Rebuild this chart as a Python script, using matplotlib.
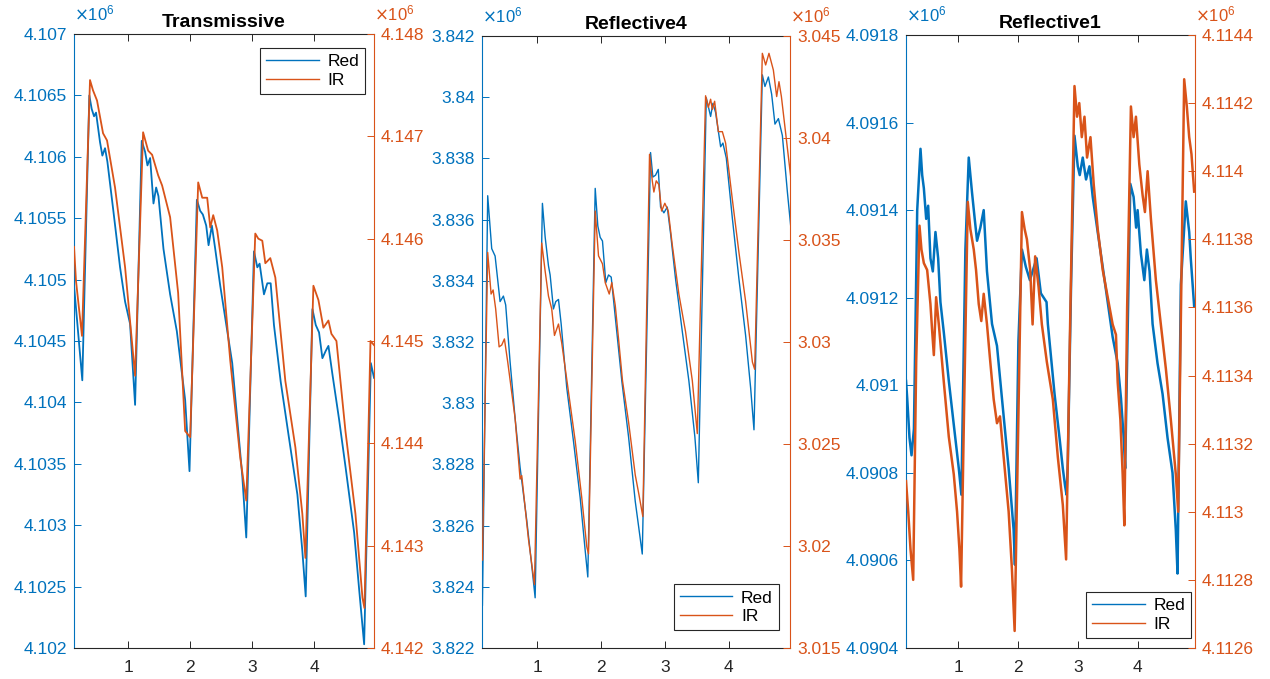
import numpy as np
import matplotlib
matplotlib.use('Agg')
import matplotlib.pyplot as plt
from matplotlib.ticker import FuncFormatter

plt.rcParams['font.family'] = ['Liberation Sans', 'DejaVu Sans']
plt.rcParams['axes.linewidth'] = 0.8
plt.rcParams['xtick.direction'] = 'in'
plt.rcParams['ytick.direction'] = 'in'
plt.rcParams['xtick.major.size'] = 5
plt.rcParams['ytick.major.size'] = 5
plt.rcParams['xtick.major.width'] = 0.7
plt.rcParams['ytick.major.width'] = 0.7

blue = '#0072BD'
orange = '#D95319'
dark = '#262626'

titles = ['Transmissive', 'Reflective4', 'Reflective1']

# ---- Transmissive (values in units of 1e6) ----
trans_t_red = [0.13, 0.263, 0.376, 0.414, 0.452, 0.484, 0.548, 0.586, 0.629, 0.667, 0.763, 0.871,
               0.952, 1.032, 1.113, 1.220, 1.274, 1.312, 1.355, 1.409, 1.452, 1.489, 1.570, 1.677,
               1.785, 1.919, 1.989, 2.108, 2.161, 2.204, 2.258, 2.296, 2.349, 2.403, 2.484, 2.677,
               2.839, 2.903, 3.027, 3.081, 3.118, 3.188, 3.242, 3.296, 3.349, 3.457, 3.591, 3.726,
               3.806, 3.860, 3.968, 4.022, 4.075, 4.129, 4.183, 4.226, 4.290, 4.398, 4.505, 4.640,
               4.720, 4.801, 4.909, 4.96]
trans_red = [4.10495, 4.10418, 4.10650, 4.10639, 4.10633, 4.10636, 4.10612, 4.10601, 4.10607,
             4.10596, 4.10556, 4.10510, 4.10482, 4.10464, 4.10398, 4.10613, 4.10604, 4.10593,
             4.10599, 4.10562, 4.10575, 4.10568, 4.10525, 4.10488, 4.10458, 4.10402, 4.10344,
             4.10565, 4.10556, 4.10553, 4.10544, 4.10528, 4.10544, 4.10525, 4.10495, 4.10432,
             4.10340, 4.10290, 4.10523, 4.10510, 4.10513, 4.10488, 4.10497, 4.10497, 4.10463,
             4.10417, 4.10371, 4.10325, 4.10279, 4.10242, 4.10476, 4.10463, 4.10457, 4.10436,
             4.10442, 4.10446, 4.10423, 4.10386, 4.10346, 4.10294, 4.10248, 4.10203, 4.10432,
             4.10420]
trans_t_ir = [0.13, 0.161, 0.258, 0.387, 0.435, 0.50, 0.597, 0.661, 0.790, 0.952, 1.113, 1.242,
              1.323, 1.387, 1.484, 1.548, 1.677, 1.806, 1.919, 2.0, 2.129, 2.194, 2.274, 2.323,
              2.371, 2.435, 2.516, 2.645, 2.806, 2.903, 3.048, 3.097, 3.161, 3.210, 3.290, 3.371,
              3.532, 3.694, 3.806, 3.855, 3.984, 4.065, 4.145, 4.226, 4.274, 4.355, 4.5, 4.661,
              4.774, 4.806, 4.903, 4.96]
trans_ir = [4.14592, 4.14559, 4.14505, 4.14755, 4.14745, 4.14735, 4.14703, 4.14696, 4.14650,
            4.14572, 4.14466, 4.14704, 4.14686, 4.14682, 4.14662, 4.14652, 4.14621, 4.14547,
            4.14412, 4.14406, 4.14655, 4.14640, 4.14640, 4.14611, 4.14623, 4.14608, 4.14572,
            4.14481, 4.14386, 4.14344, 4.14605, 4.14600, 4.14598, 4.14576, 4.14581, 4.14562,
            4.14461, 4.14396, 4.14331, 4.14288, 4.14554, 4.14540, 4.14513, 4.14520, 4.14507,
            4.14500, 4.14412, 4.14331, 4.14249, 4.14239, 4.14500, 4.14496]

# ---- Reflective4 ----
refl4_t_red = [0.137, 0.220, 0.283, 0.336, 0.414, 0.466, 0.502, 0.571, 0.650, 0.728, 0.832, 0.911,
               0.964, 1.078, 1.121, 1.173, 1.199, 1.251, 1.287, 1.330, 1.372, 1.460, 1.565, 1.670,
               1.749, 1.790, 1.906, 1.947, 1.984, 2.020, 2.072, 2.115, 2.157, 2.220, 2.323, 2.429,
               2.534, 2.590, 2.644, 2.774, 2.810, 2.852, 2.895, 2.931, 2.983, 3.036, 3.088, 3.166,
               3.272, 3.375, 3.469, 3.523, 3.648, 3.716, 3.752, 3.794, 3.873, 3.909, 3.962, 4.057,
               4.160, 4.265, 4.344, 4.396, 4.527, 4.568, 4.622, 4.673, 4.725, 4.779, 4.841, 4.920,
               4.972]
refl4_red = [3.8234, 3.83678, 3.83505, 3.83481, 3.83332, 3.8335, 3.83321, 3.83135, 3.8295, 3.8279,
             3.82618, 3.82469, 3.82364, 3.83653, 3.83543, 3.83449, 3.83419, 3.83308, 3.83332,
             3.83339, 3.83259, 3.8305, 3.82876, 3.82691, 3.82518, 3.82432, 3.83702, 3.83579,
             3.83542, 3.8353, 3.83394, 3.83419, 3.83412, 3.83283, 3.83073, 3.8289, 3.82679,
             3.82592, 3.82507, 3.83819, 3.83739, 3.83745, 3.83764, 3.83641, 3.83622, 3.83641,
             3.83554, 3.83406, 3.83234, 3.83073, 3.8289, 3.8274, 3.83998, 3.83937, 3.8398, 3.8395,
             3.83838, 3.8385, 3.83801, 3.83604, 3.83406, 3.83221, 3.83049, 3.82913, 3.84073,
             3.84035, 3.84066, 3.8401, 3.83912, 3.8393, 3.83875, 3.8369, 3.83579]
refl4_t_ir = [0.137, 0.220, 0.273, 0.305, 0.345, 0.399, 0.440, 0.482, 0.534, 0.650, 0.728, 0.754,
              0.859, 0.953, 1.067, 1.121, 1.173, 1.224, 1.267, 1.330, 1.381, 1.487, 1.592, 1.695,
              1.774, 1.801, 1.906, 1.958, 2.020, 2.063, 2.126, 2.166, 2.220, 2.272, 2.334, 2.429,
              2.534, 2.590, 2.653, 2.758, 2.801, 2.826, 2.863, 2.904, 2.947, 2.998, 3.052, 3.115,
              3.218, 3.323, 3.429, 3.507, 3.637, 3.680, 3.716, 3.743, 3.779, 3.837, 3.900, 3.951,
              4.057, 4.160, 4.265, 4.371, 4.407, 4.527, 4.579, 4.631, 4.700, 4.752, 4.788, 4.826,
              4.893, 4.972]
refl4_ir = [3.01931, 3.03439, 3.03235, 3.03255, 3.03162, 3.02976, 3.02985, 3.03015, 3.02902,
            3.02625, 3.02328, 3.02345, 3.02034, 3.01811, 3.03485, 3.03347, 3.03225, 3.03162,
            3.03032, 3.03088, 3.02995, 3.02755, 3.02515, 3.02237, 3.01996, 3.01961, 3.03642,
            3.03422, 3.03383, 3.03291, 3.03235, 3.03291, 3.0318, 3.03015, 3.0281, 3.02608,
            3.02348, 3.02255, 3.02144, 3.0392, 3.0379, 3.03735, 3.0379, 3.03772, 3.03642, 3.0368,
            3.03642, 3.03475, 3.03235, 3.0305, 3.0281, 3.02551, 3.04207, 3.0415, 3.0419, 3.0414,
            3.0418, 3.04031, 3.04031, 3.03975, 3.03698, 3.03439, 3.03199, 3.02902, 3.02866,
            3.04415, 3.04358, 3.04415, 3.04333, 3.04203, 3.04276, 3.04203, 3.04023, 3.0381]

# ---- Reflective1 ----
refl1_t_red = [0.13, 0.150, 0.188, 0.222, 0.262, 0.317, 0.372, 0.40, 0.428, 0.467, 0.50, 0.538,
               0.578, 0.622, 0.667, 0.705, 0.762, 0.845, 0.928, 1.012, 1.055, 1.122, 1.178, 1.233,
               1.278, 1.317, 1.372, 1.428, 1.483, 1.567, 1.650, 1.733, 1.845, 1.928, 1.95, 2.008,
               2.067, 2.133, 2.20, 2.312, 2.383, 2.478, 2.50, 2.612, 2.695, 2.75, 2.788, 2.812,
               2.833, 2.888, 2.945, 3.0, 3.033, 3.083, 3.138, 3.195, 3.25, 3.333, 3.417, 3.50,
               3.583, 3.667, 3.722, 3.767, 3.792, 3.817, 3.878, 3.933, 3.975, 4.0, 4.055, 4.112,
               4.155, 4.20, 4.25, 4.333, 4.417, 4.50, 4.583, 4.638, 4.667, 4.722, 4.805, 4.862,
               4.888, 4.945]
refl1_red = [4.09101, 4.09097, 4.09088, 4.09084, 4.0909, 4.0914, 4.09154, 4.09148, 4.09145,
             4.09138, 4.09141, 4.09129, 4.09126, 4.09135, 4.09129, 4.09119, 4.09112, 4.09101,
             4.09091, 4.09081, 4.09075, 4.09131, 4.09152, 4.09144, 4.09138, 4.09133, 4.09136,
             4.0914, 4.09126, 4.09114, 4.09109, 4.09097, 4.09081, 4.09067, 4.09059, 4.0911,
             4.09131, 4.09127, 4.09124, 4.09129, 4.09121, 4.09119, 4.09114, 4.09098, 4.09088,
             4.09081, 4.09077, 4.09075, 4.09082, 4.09123, 4.09157, 4.0915, 4.09148, 4.09152,
             4.09147, 4.0915, 4.09143, 4.09135, 4.09127, 4.09119, 4.09111, 4.09105, 4.09097,
             4.09088, 4.09081, 4.091, 4.09146, 4.09143, 4.09136, 4.0914, 4.0913, 4.09124, 4.09131,
             4.09126, 4.09114, 4.09105, 4.09098, 4.09088, 4.0908, 4.09067, 4.09057, 4.09123,
             4.09142, 4.09135, 4.09129, 4.09118]
refl1_t_ir = [0.13, 0.167, 0.205, 0.25, 0.30, 0.355, 0.388, 0.428, 0.483, 0.538, 0.567, 0.595,
              0.633, 0.678, 0.762, 0.845, 0.928, 0.983, 1.022, 1.05, 1.10, 1.162, 1.205, 1.262,
              1.30, 1.345, 1.388, 1.428, 1.483, 1.538, 1.595, 1.65, 1.70, 1.762, 1.845, 1.90,
              1.945, 2.0, 2.067, 2.112, 2.15, 2.205, 2.245, 2.288, 2.345, 2.40, 2.483, 2.583,
              2.667, 2.75, 2.805, 2.867, 2.945, 2.988, 3.025, 3.067, 3.112, 3.155, 3.212, 3.267,
              3.333, 3.417, 3.50, 3.583, 3.638, 3.667, 3.712, 3.75, 3.778, 3.825, 3.888, 3.933,
              3.972, 4.028, 4.083, 4.122, 4.167, 4.222, 4.305, 4.388, 4.472, 4.555, 4.638, 4.678,
              4.733, 4.778, 4.822, 4.862, 4.90, 4.945]
refl1_ir = [4.11309, 4.113, 4.11289, 4.1128, 4.11344, 4.11384, 4.11377, 4.11373, 4.11371,
            4.11361, 4.11353, 4.11346, 4.11363, 4.11355, 4.11338, 4.11322, 4.11311, 4.113,
            4.11289, 4.11278, 4.1133, 4.11391, 4.11383, 4.11377, 4.11371, 4.11361, 4.11356,
            4.11364, 4.11355, 4.11344, 4.11333, 4.11326, 4.11328, 4.11316, 4.113, 4.11283,
            4.11265, 4.1132, 4.11388, 4.11383, 4.1138, 4.11371, 4.11355, 4.11375, 4.11366,
            4.11355, 4.11344, 4.11333, 4.11316, 4.11302, 4.11286, 4.1135, 4.11425, 4.11416,
            4.1142, 4.1141, 4.11416, 4.11404, 4.1141, 4.11396, 4.11383, 4.11371, 4.11363,
            4.11355, 4.11352, 4.11338, 4.11327, 4.11311, 4.11296, 4.1136, 4.11419, 4.1141,
            4.11416, 4.11402, 4.11393, 4.11388, 4.114, 4.11386, 4.11368, 4.11355, 4.11342,
            4.11327, 4.11311, 4.113, 4.1137, 4.11427, 4.11419, 4.1141, 4.11405, 4.11394]

# axis limits / ticks as shown
left_ylims = [(4.102, 4.107), (3.822, 3.842), (4.0904, 4.0918)]
right_ylims = [(4.142, 4.148), (3.015, 3.045), (4.1126, 4.1144)]
left_nticks = [11, 11, 8]
right_nticks = [7, 7, 10]
xticks = [1, 2, 3, 4]
xlim = (0.13, 4.96)

series = [
    (trans_t_red, trans_red, trans_t_ir, trans_ir),
    (refl4_t_red, refl4_red, refl4_t_ir, refl4_ir),
    (refl1_t_red, refl1_red, refl1_t_ir, refl1_ir),
]
positions = [
    [0.0583, 0.0457, 0.2362, 0.9042],
    [0.3795, 0.0457, 0.2425, 0.9013],
    [0.7134, 0.0457, 0.2276, 0.9028],
]
legend_loc = [('upper right', (0.97, 0.977)), ('lower right', (0.964, 0.029)),
              ('lower right', (0.986, 0.016))]
line_w = [1.3, 1.0, 1.8]

fmt = FuncFormatter(lambda v, p: f'{v:g}')

fig = plt.figure(figsize=(12.7, 6.79), dpi=100)
for i in range(3):
    tr, r, ti, ir = series[i]
    ax = fig.add_axes(positions[i])
    ax2 = ax.twinx()
    l1, = ax.plot(tr, r, color=blue, lw=line_w[i], label='Red')
    l2, = ax2.plot(ti, ir, color=orange, lw=line_w[i], label='IR')

    ax.set_xlim(*xlim)
    ax.set_xticks(xticks)
    ax.set_ylim(*left_ylims[i])
    ax.set_yticks(np.linspace(*left_ylims[i], left_nticks[i]))
    ax2.set_ylim(*right_ylims[i])
    ax2.set_yticks(np.linspace(*right_ylims[i], right_nticks[i]))
    ax.yaxis.set_major_formatter(fmt)
    ax2.yaxis.set_major_formatter(fmt)

    ax.tick_params(axis='x', top=True, labelsize=12.5, colors=dark, pad=9)
    ax.tick_params(axis='y', colors=blue, labelsize=12.5, pad=5)
    ax2.tick_params(axis='y', colors=orange, labelsize=12.5, pad=5)
    ax.spines['left'].set_color(blue)
    ax.spines['right'].set_visible(False)
    ax.spines['top'].set_color(dark)
    ax.spines['bottom'].set_color(dark)
    ax2.spines['right'].set_color(orange)
    for s in ['left', 'top', 'bottom']:
        ax2.spines[s].set_visible(False)

    ax.set_title(titles[i], fontsize=14, fontweight='bold', pad=5)
    ax.text(0.0, 1.018, r'$\times\mathregular{10^{6}}$', transform=ax.transAxes,
            ha='left', va='bottom', color=blue, fontsize=12)
    ax.text(1.0, 1.018, r'$\times\mathregular{10^{6}}$', transform=ax.transAxes,
            ha='left', va='bottom', color=orange, fontsize=12)

    loc, anchor = legend_loc[i]
    leg = ax2.legend([l1, l2], ['Red', 'IR'], loc=loc, bbox_to_anchor=anchor,
                     borderaxespad=0, fontsize=12.5, fancybox=False, framealpha=1,
                     handlelength=3.0, handletextpad=0.5, borderpad=0.35, labelspacing=0.2)
    leg.get_frame().set_edgecolor(dark)
    leg.get_frame().set_linewidth(0.8)
    for h in leg.get_lines():
        h.set_linewidth(1.0)

fig.savefig('out.png', dpi=100)
